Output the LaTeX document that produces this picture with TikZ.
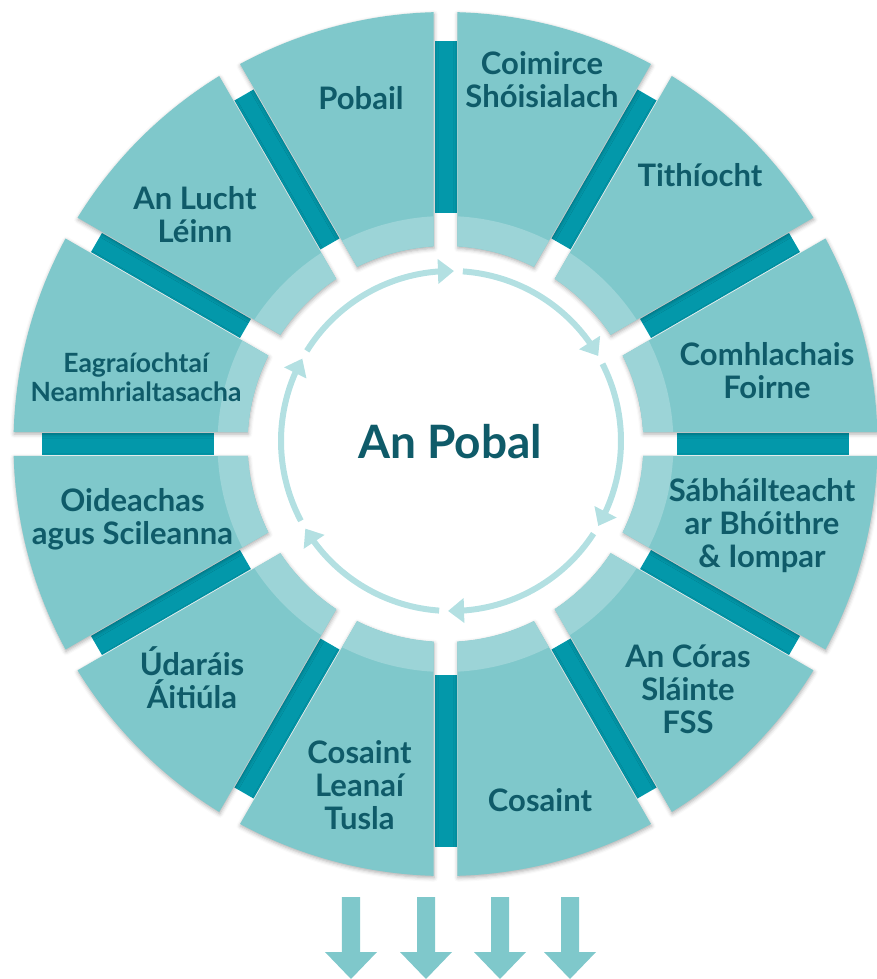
\documentclass[tikz,border=0pt]{standalone}
\usepackage{fontspec}
\setmainfont{Lato}
\usetikzlibrary{arrows.meta,bending,shadows.blur}
\definecolor{tile}{HTML}{7FC8CB}
\definecolor{band}{HTML}{9CD4D7}
\definecolor{bar}{HTML}{0398AA}
\definecolor{ink}{HTML}{0F5B69}
\definecolor{ringc}{HTML}{B3E0E2}
\begin{document}
\begin{tikzpicture}[x=1pt,y=1pt,
  lbl/.style={font=\bfseries\fontsize{31}{33}\selectfont, text=ink, align=center, inner sep=0pt},
  lblsmall/.style={lbl, font=\bfseries\fontsize{26.5}{29}\selectfont},
  tileshadow/.style={blur shadow={shadow xshift=0.5pt, shadow yshift=-2pt, shadow blur radius=4pt, shadow opacity=32}},
  cyclearrow/.style={draw=ringc, line width=6pt, -{Triangle[width=24pt,length=16pt]}},
  downarrow/.style={fill=tile}]
\useasboundingbox (-445.5,-535) rectangle (431.5,444);
\pgfmathsetmacro{\dO}{asin(12/432)}
\pgfmathsetmacro{\dI}{asin(12/198)}
\pgfmathsetmacro{\dB}{asin(12/228)}
% dark bars in the gaps
\foreach \a in {0,30,...,330} {
  \fill[bar, rotate=\a] (231,-11) rectangle (403,11);
}
% tiles
\foreach \a in {0,30,...,330} {
  \path[fill=tile, tileshadow] ({\a+\dI}:198) -- ({\a+\dO}:432)
     arc[start angle={\a+\dO}, end angle={\a+30-\dO}, radius=432]
     -- ({\a+30-\dI}:198)
     arc[start angle={\a+30-\dI}, end angle={\a+\dI}, radius=198] -- cycle;
  \fill[band] ({\a+\dI}:198) -- ({\a+\dB}:228)
     arc[start angle={\a+\dB}, end angle={\a+30-\dB}, radius=228]
     -- ({\a+30-\dI}:198)
     arc[start angle={\a+30-\dI}, end angle={\a+\dI}, radius=198] -- cycle;
}
% cycle arrows
\begin{scope}[shift={(5.5,3)}]
\foreach \s/\e in {148/89, 86/30, 27/-30, -33/-91, -94/-149, -152/-209} {
  \draw[cyclearrow] (\s:170) arc[start angle=\s, end angle=\e, radius=170];
}
\end{scope}
\node[font=\bfseries\fontsize{46}{50}\selectfont, text=ink, inner sep=0pt] (centre) at (4.5,2) {An Pobal};
% labels
\node[lbl] (pobail) at (-84.5,346) {Pobail};
\node[lbl] (coimirce) at (96.5,364) {Coimirce\\Shóisialach};
\node[lbl] (tithiocht) at (254.5,269) {Tithíocht};
\node[lbl] (comhlachais) at (321.5,73) {Comhlachais\\Foirne};
\node[lbl] (sabhailteacht) at (316.5,-82) {Sábháilteacht\\ar Bhóithre\\\& Iompar};
\node[lbl] (coras) at (242.5,-245) {An Córas\\Sláinte\\FSS};
\node[lbl] (cosaint) at (94.5,-356) {Cosaint};
\node[lbl] (leanai) at (-86,-341) {Cosaint\\Leanaí\\Tusla};
\node[lbl] (udarais) at (-253.5,-234) {Údaráis\\Áitiúla};
\node[lbl] (oideachas) at (-313,-75) {Oideachas\\agus Scileanna};
\node[lblsmall] (eagraiochtai) at (-309.5,66.5) {Eagraíochtaí\\Neamhrialtasacha};
\node[lbl] (lucht) at (-250.5,229) {An Lucht\\Léinn};
% down arrows
\foreach \x in {-94.5,-19.5,54.5,124.5} {
  \fill[downarrow] (\x-9,-453) -- (\x+9,-453) -- (\x+9,-508) -- (\x+26,-508)
     -- (\x,-535) -- (\x-26,-508) -- (\x-9,-508) -- cycle;
}
\end{tikzpicture}
\end{document}
